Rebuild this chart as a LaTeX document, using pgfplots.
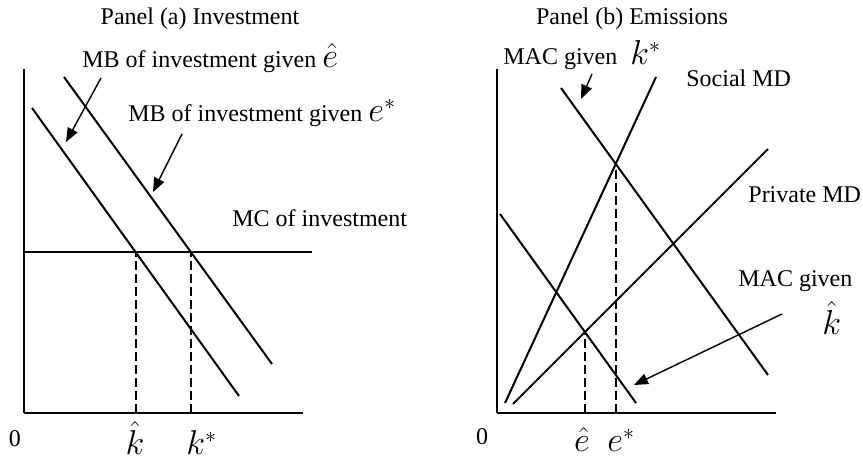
\documentclass[border=0pt]{standalone}
\usepackage{pgfplots}
\pgfplotsset{compat=1.18}
\usepackage{fontspec}
\setmainfont{Liberation Serif}
\usetikzlibrary{arrows.meta}
\pgfplotsset{econ/.style={x=0.5pt,y=0.5pt,xmin=0,xmax=279,ymin=0,ymax=344,
  axis lines=left, axis line style={-,line width=1pt,black},
  xtick=\empty, ytick=\empty, clip=false, anchor=south west,
  cycle list={{black,solid,no marks,line width=1pt}}},
  ln/.style={black,solid,no marks,line width=1pt},
  dl/.style={black,no marks,line width=1pt,dash pattern=on 4.5pt off 2pt}}
\newcommand{\econsym}[1]{{\fontsize{16}{18}\selectfont$#1$}}
\tikzset{arr/.style={-{Triangle[length=7pt,width=5.5pt]},line width=0.7pt},
  lb/.style={inner sep=0pt,font=\fontsize{12}{14}\selectfont}}
\begin{document}
\fontsize{12}{14}\selectfont
\begin{tikzpicture}[font=\fontsize{12}{14}\selectfont]
\useasboundingbox (0,0) rectangle (431.5pt,229.5pt);
% Panel (a)
\begin{axis}[econ, at={(12pt,23pt)}]
\addplot[ln] coordinates {(8,305) (215,17)};
\addplot[ln] coordinates {(40,336) (248,49)};
\addplot[ln] coordinates {(0,161) (288,161)};
\addplot[dl] coordinates {(111.5,0) (111.5,161)};
\addplot[dl] coordinates {(167,0) (167,161)};
\node[lb,anchor=base] at (axis cs:176,388) {Panel (a) Investment};
\node[lb,anchor=base west] at (axis cs:58,345) {MB of investment given \econsym{\hat{e}}};
\node[lb,anchor=base west] at (axis cs:104,291) {MB of investment given \econsym{e^*}};
\node[lb,anchor=base west] at (axis cs:208,186) {MC of investment};
\node[lb,anchor=base] at (axis cs:-9,-34) {0};
\node[lb,anchor=base] at (axis cs:111,-42) {\econsym{\hat{k}}};
\node[lb,anchor=base west] at (axis cs:162,-42) {\econsym{k^*}};
\draw[arr] (axis cs:77,335) -- (axis cs:42,271);
\draw[arr] (axis cs:158,279) -- (axis cs:129,221);
\end{axis}
% Panel (b)
\begin{axis}[econ, at={(248.5pt,23pt)}]
\addplot[ln] coordinates {(8,10) (159,336)};
\addplot[ln] coordinates {(16,9) (271,264)};
\addplot[ln] coordinates {(64,325) (271,38)};
\addplot[ln] coordinates {(3,199) (139,10)};
\addplot[dl] coordinates {(88,0) (88,81)};
\addplot[dl] coordinates {(118.7,0) (118.7,249)};
\node[lb,anchor=base] at (axis cs:135,388) {Panel (b) Emissions};
\node[lb,anchor=base west] at (axis cs:6,348) {MAC given};
\node[lb,anchor=base west] at (axis cs:133,348) {\econsym{k^*}};
\node[lb,anchor=base west] at (axis cs:189,326) {Social MD};
\node[lb,anchor=base west] at (axis cs:251,210) {Private MD};
\node[lb,anchor=base west] at (axis cs:241,126) {MAC given};
\node[lb,anchor=base west] at (axis cs:325,78) {\econsym{\hat{k}}};
\node[lb,anchor=base] at (axis cs:-15,-32) {0};
\node[lb,anchor=base] at (axis cs:85,-39) {\econsym{\hat{e}}};
\node[lb,anchor=base west] at (axis cs:110,-39) {\econsym{e^*}};
\draw[arr] (axis cs:95,339) -- (axis cs:84,314);
\draw[arr] (axis cs:285,99) -- (axis cs:137,28);
\end{axis}
\end{tikzpicture}
\end{document}
